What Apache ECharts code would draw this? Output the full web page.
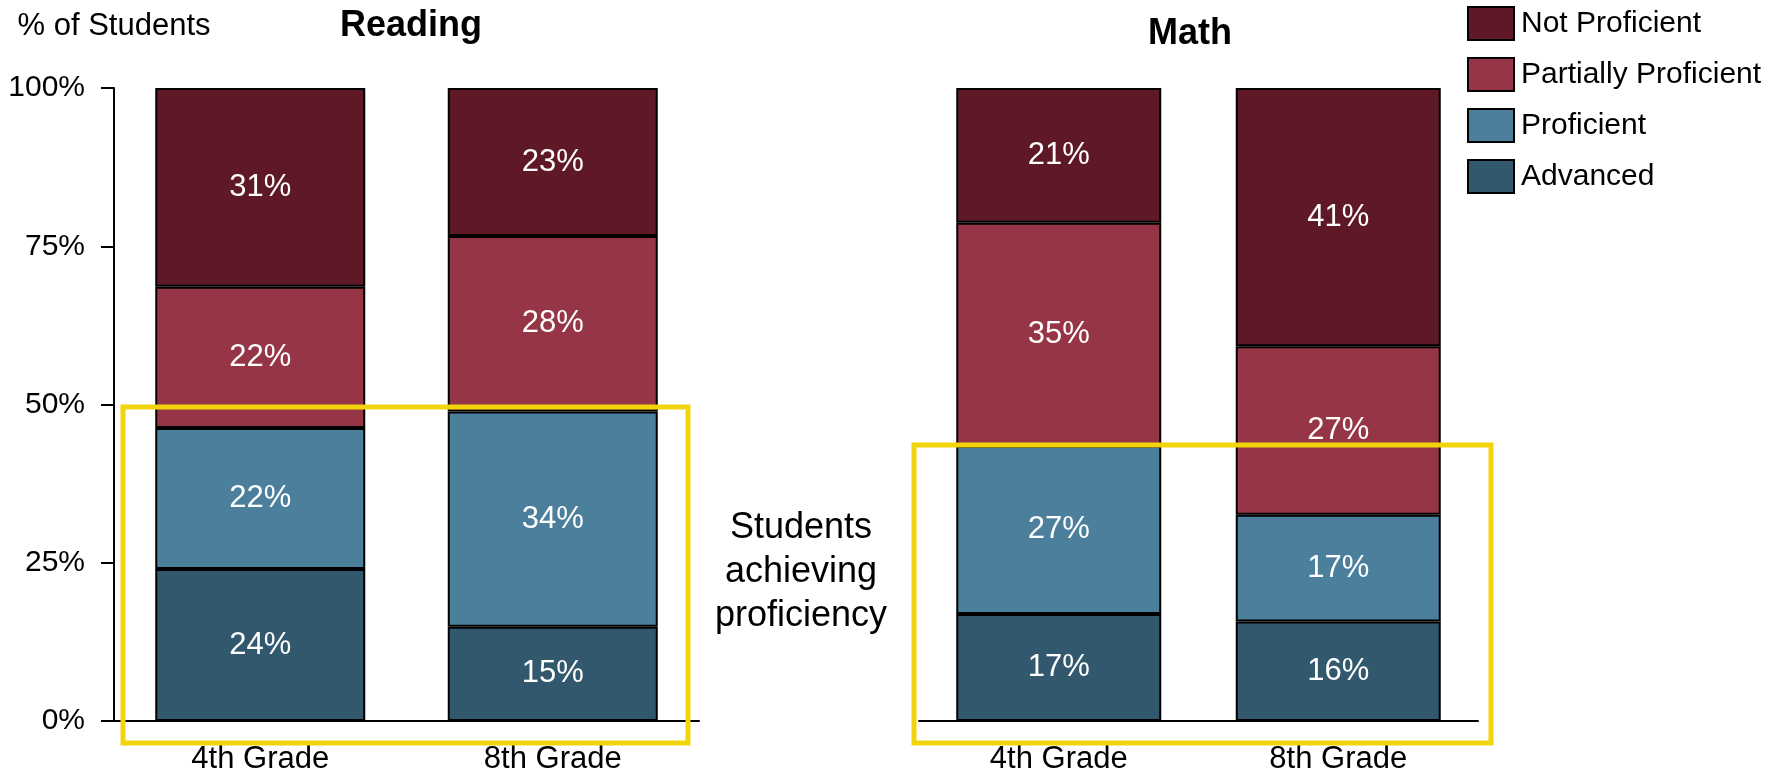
<!DOCTYPE html>
<html>
<head>
<meta charset="utf-8">
<script src="https://cdn.jsdelivr.net/npm/echarts@6/dist/echarts.min.js"></script>
<style>
  html, body { margin: 0; padding: 0; background: #fff; }
  #chart { width: 1783px; height: 779px; }
</style>
</head>
<body>
<div id="chart"></div>
<script>
  const GRADES = ['4th Grade', '8th Grade'];
  const LEVELS = ['Advanced', 'Proficient', 'Partially Proficient', 'Not Proficient'];
  const COLORS = ['#32586D', '#4B7F9C', '#963545', '#5E1826'];

  // values per level, [4th, 8th]
  const readingAdvanced = [24.0, 14.9];
  const readingProficient = [22.3, 34.0];
  const readingPartial = [22.3, 27.7];
  const readingNot = [31.4, 23.4];

  const mathAdvanced = [16.9, 15.7];
  const mathProficient = [26.6, 16.9];
  const mathPartial = [35.2, 26.6];
  const mathNot = [21.3, 40.8];

  const YTICKS = [0, 25, 50, 75, 100];

  const FONT = '"Liberation Sans", Arial, sans-serif';
  const YELLOW = '#F2D40C';

  const readingData = [readingAdvanced, readingProficient, readingPartial, readingNot];
  const mathData = [mathAdvanced, mathProficient, mathPartial, mathNot];

  function makeSeries(data, axis, stack, width) {
    return LEVELS.map(function (name, i) {
      return {
        name: name,
        type: 'bar',
        stack: stack,
        xAxisIndex: axis,
        yAxisIndex: axis,
        barWidth: width,
        data: data[i],
        itemStyle: { color: COLORS[i], borderColor: '#000', borderWidth: 2 },
        label: {
          show: true,
          position: 'inside',
          color: '#fff',
          fontFamily: FONT,
          fontSize: 31,
          formatter: function (p) { return Math.round(p.value) + '%'; }
        }
      };
    });
  }

  const chart = echarts.init(document.getElementById('chart'));

  chart.setOption({
    animation: false,
    textStyle: { fontFamily: FONT },
    legend: {
      orient: 'vertical',
      left: 1467,
      top: 6,
      padding: 0,
      itemWidth: 46,
      itemHeight: 33,
      itemGap: 16,
      icon: 'rect',
      data: ['Not Proficient', 'Partially Proficient', 'Proficient', 'Advanced'],
      textStyle: { fontSize: 30, color: '#000', fontFamily: FONT, padding: [0, 0, 0, 2] }
    },
    grid: [
      { left: 114, top: 88, width: 585, height: 633 },
      { left: 919, top: 88, width: 559, height: 633 }
    ],
    xAxis: [0, 1].map(function (i) {
      return {
        type: 'category',
        gridIndex: i,
        data: GRADES,
        axisLine: { lineStyle: { color: '#000', width: 2 } },
        axisTick: { show: false },
        axisLabel: { color: '#000', fontSize: 31, margin: 23, fontFamily: FONT }
      };
    }),
    yAxis: [
      {
        type: 'value',
        gridIndex: 0,
        min: YTICKS[0],
        max: YTICKS[YTICKS.length - 1],
        interval: 25,
        name: '% of Students',
        nameLocation: 'end',
        nameGap: 62,
        nameTextStyle: { color: '#000', fontSize: 31, fontFamily: FONT, align: 'center', verticalAlign: 'middle' },
        axisLine: { show: true, lineStyle: { color: '#000', width: 2 } },
        axisTick: { show: true, length: 13, lineStyle: { color: '#000', width: 2 } },
        axisLabel: { color: '#000', fontSize: 30, margin: 29, fontFamily: FONT, formatter: '{value}%' },
        splitLine: { show: false }
      },
      {
        type: 'value',
        gridIndex: 1,
        min: 0,
        max: 100,
        show: false,
        splitLine: { show: false }
      }
    ],
    series: makeSeries(readingData, 0, 'reading', 210).concat(makeSeries(mathData, 1, 'math', 205)),
    graphic: [
      {
        type: 'text', x: 411, y: 26, z: 10,
        style: { text: 'Reading', font: 'bold 36px ' + FONT, fill: '#000', align: 'center', verticalAlign: 'middle' }
      },
      {
        type: 'text', x: 1190, y: 34, z: 10,
        style: { text: 'Math', font: 'bold 36px ' + FONT, fill: '#000', align: 'center', verticalAlign: 'middle' }
      },
      {
        type: 'text', x: 801, y: 572, z: 10,
        style: {
          text: 'Students\nachieving\nproficiency',
          font: '36px ' + FONT, fill: '#000', align: 'center', verticalAlign: 'middle', lineHeight: 44
        }
      },
      {
        type: 'rect', z: 20,
        shape: { x: 123, y: 407, width: 565, height: 336 },
        style: { fill: 'none', stroke: YELLOW, lineWidth: 5 }
      },
      {
        type: 'rect', z: 20,
        shape: { x: 914, y: 445, width: 577, height: 298 },
        style: { fill: 'none', stroke: YELLOW, lineWidth: 5 }
      }
    ]
  });
</script>
</body>
</html>
